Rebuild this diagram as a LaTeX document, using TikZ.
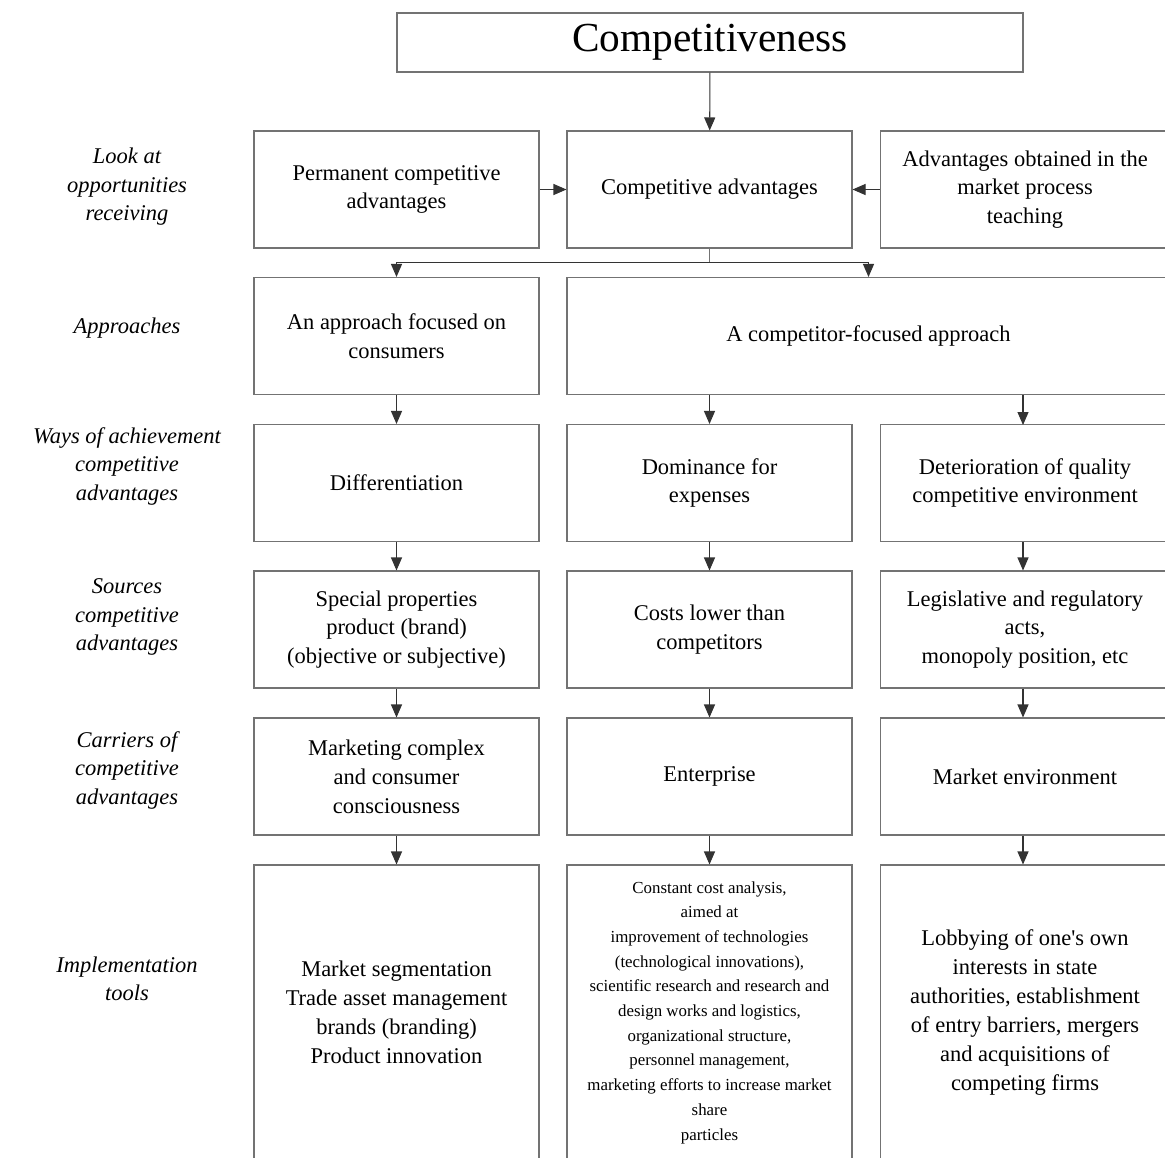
\documentclass[tikz,border=0pt]{standalone}
\usepackage{fontspec}
\setmainfont{Liberation Serif}
\usetikzlibrary{arrows.meta}

\begin{document}
\begin{tikzpicture}[x=0.02cm,y=-0.02cm,
		box/.style={draw=black!55,line width=0.6pt,align=center,inner sep=0pt,
			minimum width=#1*0.02cm,minimum height=117*0.02cm,
			font=\fontsize{12.8}{16.4}\selectfont},
		box/.default=285,
		side/.style={align=center,font=\fontsize{12.8}{16.2}\selectfont\itshape},
		arr/.style={draw=black!80,line width=0.6pt,-{Triangle[length=2.6mm,width=2.2mm]}}]
		\useasboundingbox (0,0) rectangle (1165,1157);
		\clip (0,0) rectangle (1165,1157);
		% title
		\node[box=626,minimum height=59*0.02cm,font=\fontsize{23.5}{26}\selectfont] (comp) at (710,42.5) {Competitiveness};
		% left labels
		\node[side] (l1) at (127,187) {Look at\\opportunities\\receiving};
		\node[side] (l2) at (127,328) {Approaches};
		\node[side] (l3) at (127,466) {Ways of achievement\\competitive\\advantages};
		\node[side] (l4) at (127,617) {Sources\\competitive\\advantages};
		\node[side] (l5) at (127,770) {Carriers of\\competitive\\advantages};
		\node[side] (l6) at (127,979) {Implementation\\tools};
		% row 1
		\node[box] (perm) at (396.5,189.5) {Permanent competitive\\advantages};
		\node[box] (cadv) at (709.5,189.5) {Competitive advantages};
		\node[box=289] (mkt) at (1025,189.5) {Advantages obtained in the\\market process\\teaching};
		% row 2
		\node[box] (cons) at (396.5,336) {An approach focused on\\consumers};
		\node[box=603] (compt) at (868.5,336) {A competitor-focused approach};
		% row 3
		\node[box] (diff) at (396.5,483) {Differentiation};
		\node[box] (dom) at (709.5,483) {Dominance for\\expenses};
		\node[box=289] (det) at (1025,483) {Deterioration of quality\\competitive environment};
		% row 4
		\node[box] (spec) at (396.5,629.5) {Special properties\\product (brand)\\(objective or subjective)};
		\node[box] (cost) at (709.5,629.5) {Costs lower than\\competitors};
		\node[box=289] (leg) at (1025,629.5) {Legislative and regulatory\\acts,\\monopoly position, etc};
		% row 5
		\node[box] (mcc) at (396.5,776.5) {Marketing complex\\and consumer\\consciousness};
		\node[box] (ent) at (709.5,776.5) {Enterprise};
		\node[box=289] (menv) at (1025,776.5) {Market environment};
		% row 6
		\node[box,minimum height=295*0.02cm] (seg) at (396.5,1012.5) {Market segmentation\\Trade asset management\\brands (branding)\\Product innovation};
		\node[box,minimum height=295*0.02cm,font=\fontsize{9.6}{14.05}\selectfont] (anal) at (709.5,1012.5) {Constant cost analysis,\\aimed at\\improvement of technologies\\(technological innovations),\\scientific research and research and\\design works and logistics,\\organizational structure,\\personnel management,\\marketing efforts to increase market\\share\\particles};
		\node[box=289,minimum height=295*0.02cm] (lob) at (1025,1012.5) {Lobbying of one\textquotesingle s own\\interests in state\\authorities, establishment\\of entry barriers, mergers\\and acquisitions of\\competing firms};
		% connectors
		\draw[arr] (comp) -- (cadv);
		\draw[arr] (perm) -- (cadv);
		\draw[arr] (mkt.west) -- (cadv.east);
		\coordinate (split) at ([yshift=-14*0.02cm]cadv.south);
		\draw[draw=black!55,line width=0.6pt] (cadv.south) -- (split);
		\draw[arr] (split) -| (cons.north);
		\draw[arr] (split) -| (compt.north);
		\draw[arr] (cons) -- (diff);
		\draw[arr] (compt.south -| dom.north) -- (dom.north);
		\draw[arr] (compt.south -| 1023,0) -- (1023,425);
		\draw[arr] (diff) -- (spec);
		\draw[arr] (dom) -- (cost);
		\draw[arr] (det.south -| 1023,0) -- (leg.north -| 1023,0);
		\draw[arr] (spec) -- (mcc);
		\draw[arr] (cost) -- (ent);
		\draw[arr] (leg.south -| 1023,0) -- (menv.north -| 1023,0);
		\draw[arr] (mcc) -- (seg);
		\draw[arr] (ent) -- (anal);
		\draw[arr] (menv.south -| 1023,0) -- (lob.north -| 1023,0);
	\end{tikzpicture}
\end{document}
